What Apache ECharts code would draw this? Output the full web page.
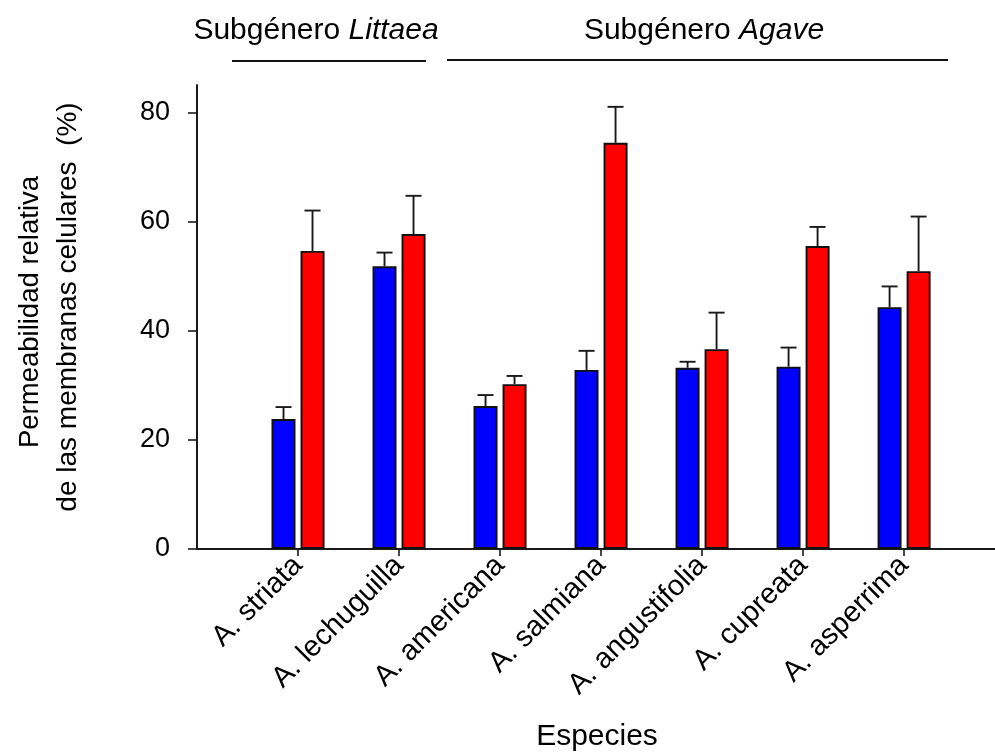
<!DOCTYPE html>
<html><head><meta charset="utf-8">
<script src="https://cdn.jsdelivr.net/npm/echarts@6/dist/echarts.min.js"></script>
<style>html,body{margin:0;padding:0;background:#fff}#c{width:995px;height:756px}</style>
</head><body><div id="c"></div>
<script>
const categories = ['A. striata','A. lechuguilla','A. americana','A. salmiana','A. angustifolia','A. cupreata','A. asperrima'];
const blueValues = [23.8, 51.8, 26.2, 32.8, 33.2, 33.4, 44.3];
const blueErr    = [2.2, 2.5, 2.0, 3.5, 1.1, 3.5, 3.8];
const redValues  = [54.6, 57.7, 30.2, 74.4, 36.6, 55.5, 50.9];
const redErr     = [7.4, 7.0, 1.5, 6.6, 6.7, 3.5, 10.0];
const yTicks = [0, 20, 40, 60, 80];
const xPositions = [1, 2, 3, 4, 5, 6, 7];

const FONT = 'Liberation Sans, Arial, sans-serif';
const chart = echarts.init(document.getElementById('c'));
const BAR_W = 24, OFF = 14.5, CAP = 8;

function errSeries(vals, errs, off) {
  return {
    type: 'custom', z: 5,
    data: vals.map((v, i) => [xPositions[i], v, errs[i]]),
    renderItem: function (params, api) {
      const x = api.value(0), y = api.value(1), e = api.value(2);
      const p0 = api.coord([x, y]);
      const p1 = api.coord([x, y + e]);
      const cx = p0[0] + off;
      const st = {stroke: '#1a1a1a', lineWidth: 1.9};
      return {type: 'group', children: [
        {type: 'line', shape: {x1: cx, y1: p0[1], x2: cx, y2: p1[1]}, style: st},
        {type: 'line', shape: {x1: cx - CAP, y1: p1[1], x2: cx + CAP, y2: p1[1]}, style: st}
      ]};
    }
  };
}

chart.setOption({
  animation: false,
  grid: {left: 197, right: 0, top: 85, bottom: 207, containLabel: false},
  xAxis: {
    type: 'value', min: 0, max: 7.9, interval: 1,
    axisLine: {lineStyle: {color: '#1a1a1a', width: 2}},
    axisTick: {show: true, length: 7, customValues: xPositions, lineStyle: {color: '#1a1a1a', width: 1.6}},
    splitLine: {show: false},
    axisLabel: {
      rotate: 45, margin: 12, color: '#000', fontSize: 29, fontFamily: FONT,
      customValues: xPositions,
      formatter: v => categories[v - 1] || ''
    }
  },
  yAxis: {
    type: 'value', min: 0, max: 85, interval: 20,
    axisLine: {show: true, lineStyle: {color: '#1a1a1a', width: 2}},
    axisTick: {show: true, length: 9, customValues: yTicks, lineStyle: {color: '#1a1a1a', width: 1.6}},
    splitLine: {show: false},
    axisLabel: {color: '#000', fontSize: 27, fontFamily: FONT, margin: 27,
      customValues: yTicks, formatter: v => String(v)}
  },
  series: [
    {type: 'bar', data: blueValues.map((v, i) => [xPositions[i], v]), barWidth: BAR_W, barGap: '21%',
     itemStyle: {color: '#0000ff', borderColor: '#111', borderWidth: 1.9}},
    {type: 'bar', data: redValues.map((v, i) => [xPositions[i], v]), barWidth: BAR_W, barGap: '21%',
     itemStyle: {color: '#ff0000', borderColor: '#111', borderWidth: 1.9}},
    errSeries(blueValues, blueErr, -OFF),
    errSeries(redValues, redErr, OFF)
  ],
  graphic: [
    {type: 'text', x: 316, y: 31, style: {
      text: '{n|Subgénero }{i|Littaea}', align: 'center', verticalAlign: 'middle',
      rich: {n: {fontSize: 30, fontFamily: FONT, fill: '#000'}, i: {fontSize: 30, fontFamily: FONT, fontStyle: 'italic', fill: '#000'}}}},
    {type: 'text', x: 704, y: 31, style: {
      text: '{n|Subgénero }{i|Agave}', align: 'center', verticalAlign: 'middle',
      rich: {n: {fontSize: 30, fontFamily: FONT, fill: '#000'}, i: {fontSize: 30, fontFamily: FONT, fontStyle: 'italic', fill: '#000'}}}},
    {type: 'line', shape: {x1: 232, y1: 61, x2: 426, y2: 61}, style: {stroke: '#111', lineWidth: 2}},
    {type: 'line', shape: {x1: 447, y1: 60, x2: 948, y2: 60}, style: {stroke: '#111', lineWidth: 2}},
    {type: 'text', x: 30, y: 312, rotation: Math.PI / 2, style: {
      text: 'Permeabilidad relativa', align: 'center', verticalAlign: 'middle',
      fontSize: 27.5, fontFamily: FONT, fill: '#000'}},
    {type: 'text', x: 68, y: 307, rotation: Math.PI / 2, style: {
      text: 'de las membranas celulares  (%)', align: 'center', verticalAlign: 'middle',
      fontSize: 28, fontFamily: FONT, fill: '#000'}},
    {type: 'text', x: 597, y: 737, style: {
      text: 'Especies', align: 'center', verticalAlign: 'middle',
      fontSize: 30, fontFamily: FONT, fill: '#000'}}
  ]
});
</script></body></html>
